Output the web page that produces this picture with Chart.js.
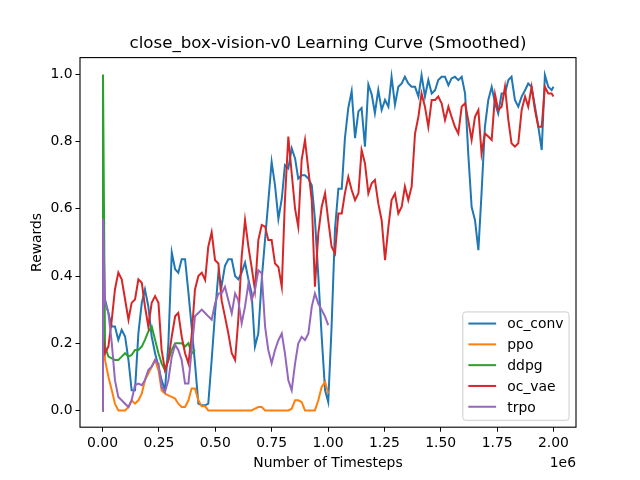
<!DOCTYPE html>
<html>
<head>
<meta charset="utf-8">
<script src="https://cdn.jsdelivr.net/npm/chart.js@4.4.1/dist/chart.umd.min.js"></script>
<style>
  html, body { margin: 0; padding: 0; background: #fff; }
  #wrap { width: 640px; height: 480px; }
</style>
</head>
<body>
<div id="wrap"><canvas id="myChart" width="640" height="480"></canvas></div>
<script>
"use strict";

const chartTitle = "close_box-vision-v0 Learning Curve (Smoothed)";
const xTitle = "Number of Timesteps";
const yTitle = "Rewards";
const xTicks = [0, 250000, 500000, 750000, 1000000, 1250000, 1500000, 1750000, 2000000];
const yTicks = [0, 0.2, 0.4, 0.6, 0.8, 1.0];
const seriesNames = ["oc_conv", "ppo", "ddpg", "oc_vae", "trpo"];
const seriesColors = ["#1f77b4", "#ff7f0e", "#2ca02c", "#d62728", "#9467bd"];

// shared timestep grid (shorter runs just stop early)
const timesteps = [0, 2000,
    11000, 26000, 41000, 55000, 70000, 85000, 100000, 115000, 129000, 144000,
    159000, 174000, 188000, 203000, 218000, 233000, 248000, 262000, 277000, 292000,
    307000, 322000, 336000, 351000, 366000, 381000, 395000, 410000, 425000, 440000,
    455000, 469000, 484000, 499000, 514000, 528000, 543000, 558000, 573000, 588000,
    602000, 617000, 632000, 647000, 661000, 676000, 691000, 706000, 721000, 735000,
    750000, 765000, 780000, 795000, 809000, 824000, 839000, 854000, 868000, 883000,
    898000, 913000, 928000, 942000, 957000, 972000, 987000, 1001000, 1016000, 1031000,
    1046000, 1061000, 1075000, 1090000, 1105000, 1120000, 1135000, 1149000, 1164000, 1179000,
    1194000, 1208000, 1223000, 1238000, 1253000, 1268000, 1282000, 1297000, 1312000, 1327000,
    1341000, 1356000, 1371000, 1386000, 1401000, 1415000, 1430000, 1445000, 1460000, 1475000,
    1489000, 1504000, 1519000, 1534000, 1548000, 1563000, 1578000, 1593000, 1608000, 1622000,
    1637000, 1652000, 1667000, 1681000, 1696000, 1711000, 1726000, 1741000, 1755000, 1770000,
    1785000, 1800000, 1814000, 1829000, 1844000, 1859000, 1874000, 1888000, 1903000, 1918000,
    1933000, 1948000, 1962000, 1977000, 1992000, 2000000];

const ocConv = [0, 0.36,
    0.33, 0.29, 0.25, 0.25, 0.21, 0.24, 0.22, 0.15, 0.06, 0.06,
    0.23, 0.32, 0.36, 0.31, 0.22, 0.17, 0.13, 0.09, 0.06, 0.2,
    0.47, 0.42, 0.41, 0.45, 0.45, 0.35, 0.25, 0.14, 0.02, 0.015,
    0.015, 0.02, 0.15, 0.29, 0.41, 0.37, 0.43, 0.45, 0.45, 0.40,
    0.39, 0.41, 0.44, 0.39, 0.35, 0.19, 0.23, 0.39, 0.51, 0.62,
    0.74, 0.67, 0.57, 0.63, 0.73, 0.72, 0.78, 0.75, 0.69, 0.70,
    0.70, 0.69, 0.67, 0.57, 0.40, 0.22, 0.06, 0.025, 0.25, 0.54,
    0.66, 0.66, 0.81, 0.90, 0.95, 0.81, 0.89, 0.90, 0.785, 0.97,
    0.94, 0.885, 0.953, 0.894, 0.924, 0.904, 0.993, 0.91, 0.963, 0.973,
    0.993, 0.973, 0.963, 0.963, 0.934, 0.998, 0.934, 0.983, 0.943, 0.953,
    0.983, 0.993, 0.993, 0.968, 0.988, 0.993, 0.983, 0.993, 0.943, 0.765,
    0.606, 0.566, 0.477, 0.646, 0.844, 0.924, 0.963, 0.914, 0.884, 0.943,
    0.943, 0.983, 0.993, 0.924, 0.904, 0.934, 0.953, 0.973, 0.963, 0.904,
    0.844, 0.775, 0.998, 0.963, 0.953, 0.963];

const ppo = [0, 0.3,
    0.15, 0.10, 0.06, 0.02, 0.0, 0.0, 0.0, 0.01, 0.03, 0.02,
    0.03, 0.05, 0.09, 0.11, 0.13, 0.15, 0.12, 0.06, 0.05, 0.045,
    0.04, 0.035, 0.02, 0.01, 0.01, 0.03, 0.065, 0.065, 0.03, 0.012,
    0.012, 0.0, 0.0, 0.0, 0.0, 0.0, 0.0, 0.0, 0.0, 0.0,
    0.0, 0.0, 0.0, 0.0, 0.0, 0.005, 0.01, 0.01, 0.0, 0.0,
    0.0, 0.0, 0.0, 0.0, 0.0, 0.0, 0.005, 0.03, 0.03, 0.025,
    0.0, 0.0, 0.0, 0.0, 0.03, 0.07, 0.085, 0.05];

const ddpg = [0, 1.0,
    0.19, 0.16, 0.155, 0.15, 0.15, 0.16, 0.17, 0.16, 0.165, 0.18,
    0.18, 0.19, 0.21, 0.235, 0.25, 0.21, 0.17, 0.14, 0.12, 0.15,
    0.18, 0.20, 0.20, 0.2, 0.19, 0.2, 0.17, 0.18];

const ocVae = [0, 0.22,
    0.17, 0.19, 0.27, 0.36, 0.41, 0.39, 0.33, 0.27, 0.32, 0.33,
    0.39, 0.38, 0.31, 0.25, 0.32, 0.34, 0.32, 0.18, 0.12, 0.15,
    0.22, 0.28, 0.29, 0.22, 0.17, 0.14, 0.22, 0.36, 0.40, 0.41,
    0.388, 0.487, 0.53, 0.447, 0.437, 0.328, 0.279, 0.229, 0.17, 0.15,
    0.269, 0.457, 0.566, 0.487, 0.427, 0.358, 0.507, 0.552, 0.547, 0.507,
    0.507, 0.437, 0.427, 0.368, 0.626, 0.815, 0.705, 0.6, 0.547, 0.745,
    0.805, 0.715, 0.626, 0.368, 0.527, 0.606, 0.646, 0.566, 0.487, 0.467,
    0.586, 0.586, 0.646, 0.695, 0.656, 0.626, 0.646, 0.775, 0.735, 0.646,
    0.676, 0.686, 0.616, 0.566, 0.447, 0.547, 0.626, 0.645, 0.586, 0.606,
    0.666, 0.626, 0.666, 0.824, 0.874, 0.943, 0.904, 0.844, 0.924, 0.924,
    0.934, 0.914, 0.864, 0.904, 0.874, 0.844, 0.824, 0.904, 0.914, 0.864,
    0.805, 0.874, 0.894, 0.765, 0.824, 0.815, 0.805, 0.94, 0.894, 0.904,
    0.963, 0.864, 0.795, 0.785, 0.795, 0.894, 0.934, 0.904, 0.963, 0.894,
    0.844, 0.844, 0.963, 0.943, 0.943, 0.934];

const trpo = [0, 0.57,
    0.32, 0.29, 0.2, 0.09, 0.04, 0.03, 0.02, 0.01, 0.03, 0.075,
    0.08, 0.075, 0.09, 0.12, 0.13, 0.15, 0.14, 0.07, 0.055, 0.09,
    0.16, 0.195, 0.18, 0.15, 0.08, 0.08, 0.18, 0.28, 0.29, 0.30,
    0.29, 0.28, 0.27, 0.318, 0.348, 0.348, 0.368, 0.328, 0.289, 0.348,
    0.328, 0.259, 0.309, 0.378, 0.328, 0.358, 0.417, 0.408, 0.249, 0.18,
    0.14, 0.18, 0.209, 0.229, 0.17, 0.09, 0.06, 0.14, 0.199, 0.219,
    0.209, 0.229, 0.309, 0.348, 0.318, 0.299, 0.279, 0.254];

const seriesValues = [ocConv, ppo, ddpg, ocVae, trpo];

const FONT = "'DejaVu Sans', 'Liberation Sans', sans-serif";

function toPoints(values) {
    return values.map((y, i) => ({ x: timesteps[i], y: y }));
}

// frame, texts and the legend box, drawn like matplotlib does
const decorations = {
    id: "decorations",
    afterDraw(chart) {
        const c = chart.ctx;
        const a = chart.chartArea;
        const cx = (a.left + a.right) / 2;
        c.save();
        c.strokeStyle = "#000";
        c.lineWidth = 1.1;
        c.strokeRect(a.left, a.top, a.right - a.left, a.bottom - a.top);

        c.fillStyle = "#000";
        c.textBaseline = "alphabetic";
        c.textAlign = "center";
        c.font = "16.67px " + FONT;
        c.fillText(chartTitle, cx, a.top - 9.5);

        c.font = "13.9px " + FONT;
        c.fillText(xTitle, cx, 466.7);
        c.textAlign = "right";
        c.fillText("1e6", a.right, 466.7);

        c.save();
        c.translate(40.5, (a.top + a.bottom) / 2);
        c.rotate(-Math.PI / 2);
        c.textAlign = "center";
        c.fillText(yTitle, 0, 0);
        c.restore();

        // legend, lower right
        const fs = 13.9;
        let tw = 0;
        seriesNames.forEach(n => { tw = Math.max(tw, c.measureText(n).width); });
        const w = 0.4 * fs + 2.0 * fs + 0.8 * fs + tw + 0.4 * fs;
        const h = 108.3;
        const x0 = a.right - 0.5 * fs - w;
        const y0 = a.bottom - 0.5 * fs - h;
        c.beginPath();
        if (c.roundRect) {
            c.roundRect(x0, y0, w, h, 2.8);
        } else {
            c.rect(x0, y0, w, h);
        }
        c.fillStyle = "rgba(255,255,255,0.8)";
        c.fill();
        c.strokeStyle = "#cccccc";
        c.lineWidth = 1;
        c.stroke();

        c.textAlign = "left";
        seriesNames.forEach((n, i) => {
            const ry = y0 + 11.6 + i * 20.8;
            const lx = x0 + 0.4 * fs;
            c.strokeStyle = seriesColors[i];
            c.lineWidth = 2;
            c.beginPath();
            c.moveTo(lx, ry);
            c.lineTo(lx + 2.0 * fs, ry);
            c.stroke();
            c.fillStyle = "#000";
            c.fillText(n, lx + 2.8 * fs, ry + 4.8);
        });
        c.restore();
    }
};

const ctx = document.getElementById("myChart").getContext("2d");

let config = {
    type: "line",
    data: {
        datasets: seriesNames.map((name, i) => ({
            label: name,
            data: toPoints(seriesValues[i]),
            borderColor: seriesColors[i],
            backgroundColor: seriesColors[i],
            borderWidth: 2,
            pointRadius: 0,
            tension: 0,
            fill: false,
            order: seriesNames.length - i
        }))
    },
    options: {
        responsive: false,
        animation: false,
        devicePixelRatio: 1,
        layout: { padding: { left: 0, right: 64, top: 57.6, bottom: 0 } },
        plugins: {
            legend: { display: false },
            title: { display: false },
            tooltip: { enabled: false }
        },
        scales: {
            x: {
                type: "linear",
                min: -100000,
                max: 2100000,
                afterBuildTicks: s => { s.ticks = xTicks.map(v => ({ value: v })); },
                afterFit: s => { s.height = 52.8; },
                ticks: {
                    callback: v => (v / 1e6).toFixed(2),
                    color: "#000",
                    font: { family: FONT, size: 13.9 },
                    padding: 3,
                    maxRotation: 0,
                    autoSkip: false
                },
                grid: { drawOnChartArea: false, drawTicks: true, tickLength: 4.5, color: "#000", lineWidth: 1 },
                border: { display: false }
            },
            y: {
                type: "linear",
                min: -0.05,
                max: 1.05,
                afterBuildTicks: s => { s.ticks = yTicks.map(v => ({ value: v })); },
                afterFit: s => { s.width = 80; },
                ticks: {
                    callback: v => v.toFixed(1),
                    color: "#000",
                    font: { family: FONT, size: 13.9 },
                    padding: 3,
                    autoSkip: false
                },
                grid: { drawOnChartArea: false, drawTicks: true, tickLength: 4.5, color: "#000", lineWidth: 1 },
                border: { display: false }
            }
        }
    },
    plugins: [decorations]
};

let myChart = new Chart(ctx, config);
</script>
</body>
</html>
